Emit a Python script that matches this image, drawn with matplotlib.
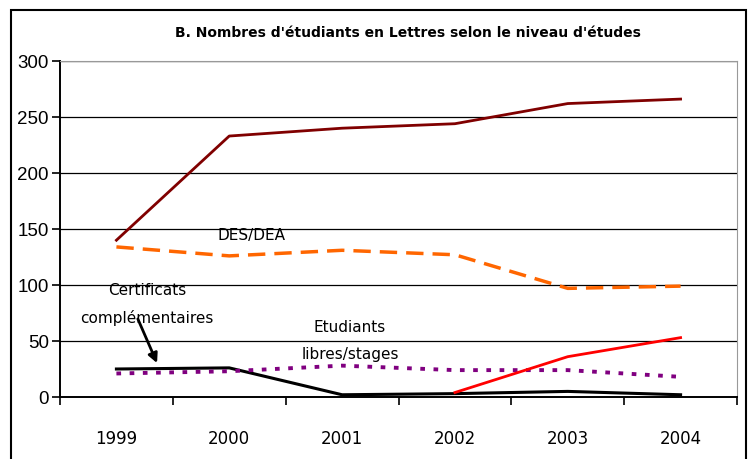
import matplotlib.pyplot as plt
from matplotlib.patches import Rectangle

years = ["1999", "2000", "2001", "2002", "2003", "2004"]
licence = [140, 233, 240, 244, 262, 266]
des_dea = [134, 126, 131, 127, 97, 99]
certificats = [25, 26, 2, 3, 5, 2]
libres = [21, 23, 28, 24, 24, 18]
doctorat = [None, None, None, 4, 36, 53]
y_ticks = [0, 50, 100, 150, 200, 250, 300]

fig = plt.figure(figsize=(7.53, 4.60), dpi=100)
ax = fig.add_axes([60 / 753, 62 / 460, 677 / 753, 336 / 460])

x = list(range(len(years)))
ax.plot(x, licence, color="#800000", lw=2)
ax.plot(x, des_dea, color="#ff6600", lw=2.5, dashes=(5, 2.6))
ax.plot(x, certificats, color="black", lw=2.2)
ax.plot(x, libres, color="#800080", lw=2.8, dashes=(1.2, 2.2))
x_doc = [i for i, v in zip(x, doctorat) if v is not None]
ax.plot(x_doc, [v for v in doctorat if v is not None], color="#ff0000", lw=2)

ax.set_xlim(-0.5, len(years) - 0.5)
ax.set_ylim(0, 300)
ax.set_yticks(y_ticks)
ax.set_yticklabels([str(v) for v in y_ticks], fontsize=13.5, family="Liberation Sans")
ax.set_xticks(x)
ax.set_xticklabels(years, fontsize=12)
ax.set_xticks([i - 0.5 for i in range(len(years) + 1)], minor=True)
ax.tick_params(axis="x", which="major", length=0, pad=23)
ax.tick_params(axis="x", which="minor", length=6, width=1.2, direction="out")
ax.tick_params(axis="y", length=6, width=1.2, direction="out", pad=2)
ax.grid(axis="y", color="black", lw=0.9)
ax.set_axisbelow(True)
for s in ["top", "right"]:
    ax.spines[s].set_color("#999999")
for s in ["left", "bottom"]:
    ax.spines[s].set_linewidth(1.4)

ax.text(1.2, 145, "DES/DEA", fontsize=11, ha="center", va="center")
ax.text(0.27, 96, "Certificats", fontsize=11, ha="center", va="center")
ax.text(0.27, 71, "complémentaires", fontsize=11, ha="center", va="center")
ax.annotate("", xy=(0.37, 28), xytext=(0.18, 72),
            arrowprops=dict(arrowstyle="-|>", color="black", lw=2, mutation_scale=14))
ax.text(2.07, 63, "Etudiants", fontsize=11, ha="center", va="center")
ax.text(2.07, 39, "libres/stages", fontsize=11, ha="center", va="center")

fig.text(408 / 753, 1 - 33 / 460, "B. Nombres d'étudiants en Lettres selon le niveau d'études",
         fontsize=10, fontweight="bold", ha="center", va="center", family="DejaVu Sans Condensed")

fig.patches.append(Rectangle((11 / 753, -0.05), 735 / 753, 1.05 - 11 / 460,
                             transform=fig.transFigure, fill=False, ec="black", lw=1.5))

fig.savefig("out.png", dpi=100)
